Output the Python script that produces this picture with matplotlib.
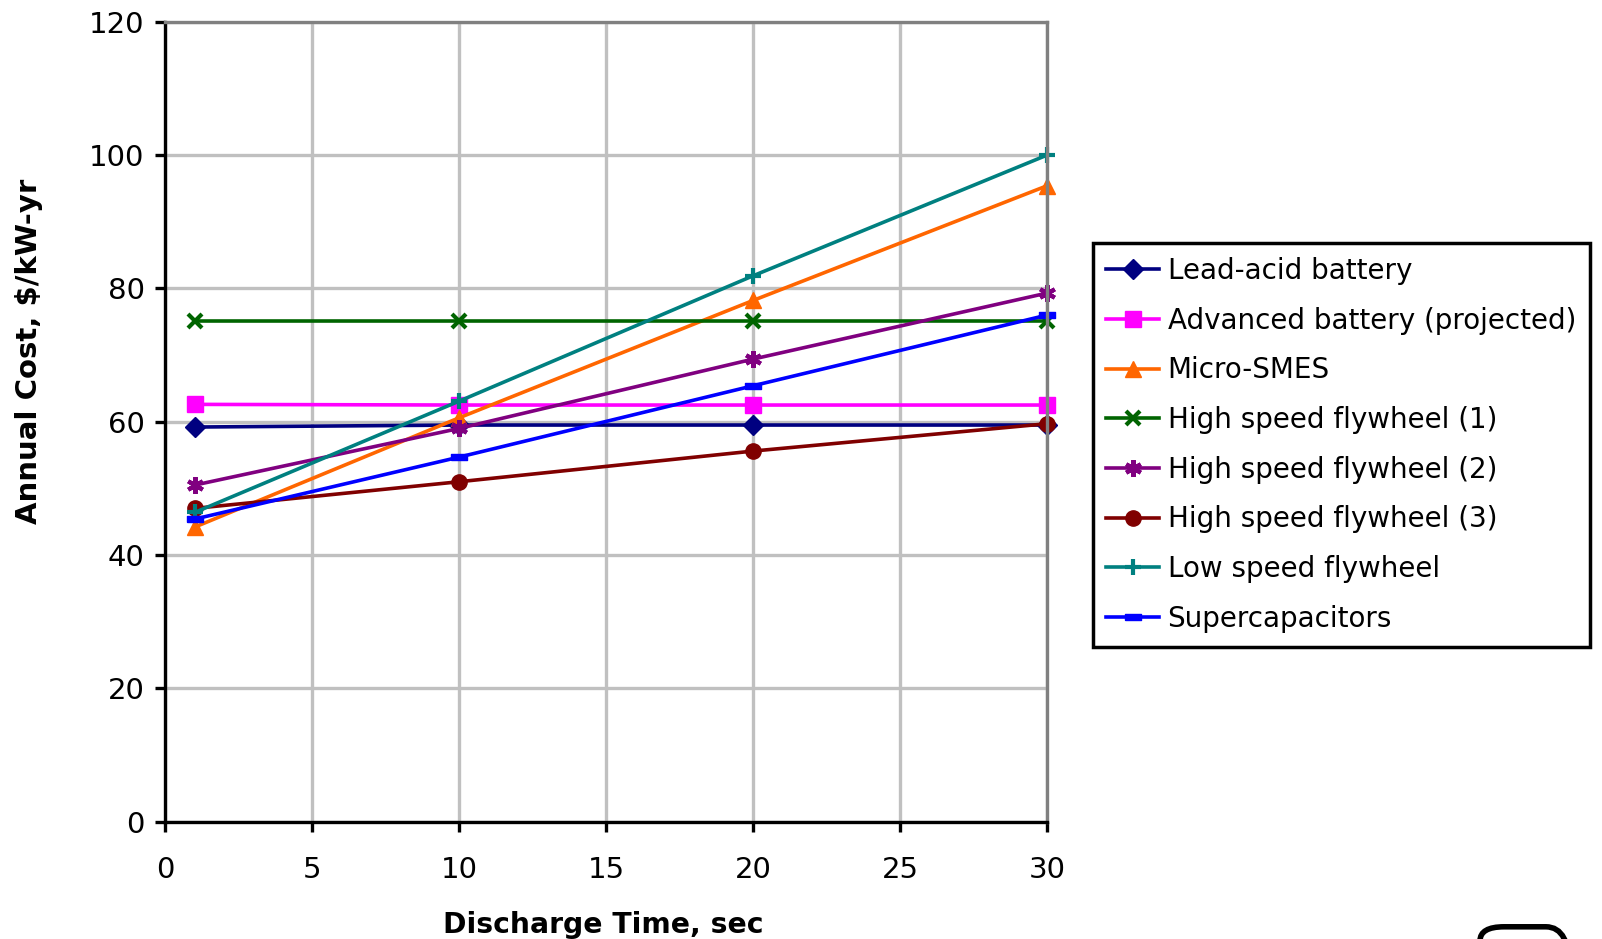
import matplotlib
matplotlib.use("Agg")
import matplotlib.pyplot as plt
from matplotlib.patches import FancyBboxPatch

plt.rcParams['font.family'] = ['DejaVu Sans']

x_time = [1, 10, 20, 30]

lead_acid = [59.2, 59.5, 59.5, 59.5]
advanced_battery = [62.6, 62.5, 62.5, 62.5]
micro_smes = [44.2, 60.6, 78.2, 95.4]
hs_flywheel_1 = [75.1, 75.1, 75.1, 75.1]
hs_flywheel_2 = [50.5, 59.0, 69.4, 79.3]
hs_flywheel_3 = [47.0, 51.0, 55.6, 59.7]
ls_flywheel = [46.4, 63.1, 81.9, 100.0]
supercaps = [45.4, 54.7, 65.4, 76.0]

series_names = ['Lead-acid battery', 'Advanced battery (projected)', 'Micro-SMES',
                'High speed flywheel (1)', 'High speed flywheel (2)',
                'High speed flywheel (3)', 'Low speed flywheel', 'Supercapacitors']
series_values = [lead_acid, advanced_battery, micro_smes, hs_flywheel_1,
                 hs_flywheel_2, hs_flywheel_3, ls_flywheel, supercaps]

bar_marker = [(-1, -0.45), (1, -0.45), (1, 0.45), (-1, 0.45), (-1, -0.45)]
styles = [
    dict(color='#000080', marker='D', ms=10),
    dict(color='#ff00ff', marker='s', ms=11),
    dict(color='#ff6600', marker='^', ms=12),
    dict(color='#006400', marker='x', ms=10, mew=3),
    dict(color='#800080', marker=(6, 2, 0), ms=12, mew=3),
    dict(color='#800000', marker='o', ms=11),
    dict(color='#008080', marker='+', ms=12, mew=3),
    dict(color='#0000ff', marker=bar_marker, ms=11),
]

fig = plt.figure(figsize=(16.02, 9.39), dpi=100)
ax = fig.add_axes([0.1033, 0.1249, 0.5504, 0.852])

for name, vals, st in zip(series_names, series_values, styles):
    ax.plot(x_time, vals, '-', lw=2.6, label=name, clip_on=False, **st)

ax.set_xlim(0, 30)
ax.set_ylim(0, 120)
ax.set_xticks(range(0, 31, 5))
ax.set_yticks(range(0, 121, 20))
ax.grid(True, color='#c0c0c0', lw=2.4)
ax.set_axisbelow(True)

for side in ['left', 'bottom']:
    ax.spines[side].set_color('black')
    ax.spines[side].set_linewidth(2.4)
for side in ['top', 'right']:
    ax.spines[side].set_color('#808080')
    ax.spines[side].set_linewidth(2.4)

ax.tick_params(axis='both', direction='out', length=7, width=2.4,
               labelsize=21, top=False, right=False)
ax.tick_params(axis='x', pad=18)
ax.tick_params(axis='y', pad=8)

ax.set_xlabel('Discharge Time, sec', fontsize=20.3, fontweight='bold')
ax.xaxis.set_label_coords(0.496, -0.112)
ax.set_ylabel('Annual Cost, $/kW-yr', fontsize=21, fontweight='bold')
ax.yaxis.set_label_coords(-0.139, 0.588)

leg = fig.legend(loc='upper left', bbox_to_anchor=(0.682, 0.741),
                 bbox_transform=fig.transFigure, borderaxespad=0,
                 fontsize=20, frameon=True, fancybox=False,
                 handlelength=1.9, handletextpad=0.3, labelspacing=0.78,
                 borderpad=0.5)
leg.get_frame().set_edgecolor('black')
leg.get_frame().set_linewidth(2.5)
leg.get_frame().set_alpha(1)

# partial logo fragment at the bottom right edge
logo = FancyBboxPatch((1480 / 1602, -0.05), 90 / 1602, 0.063,
                      boxstyle='round,pad=0,rounding_size=0.015',
                      transform=fig.transFigure, fill=False,
                      edgecolor='black', lw=4)
fig.patches.append(logo)

fig.savefig('out.png', dpi=100)
